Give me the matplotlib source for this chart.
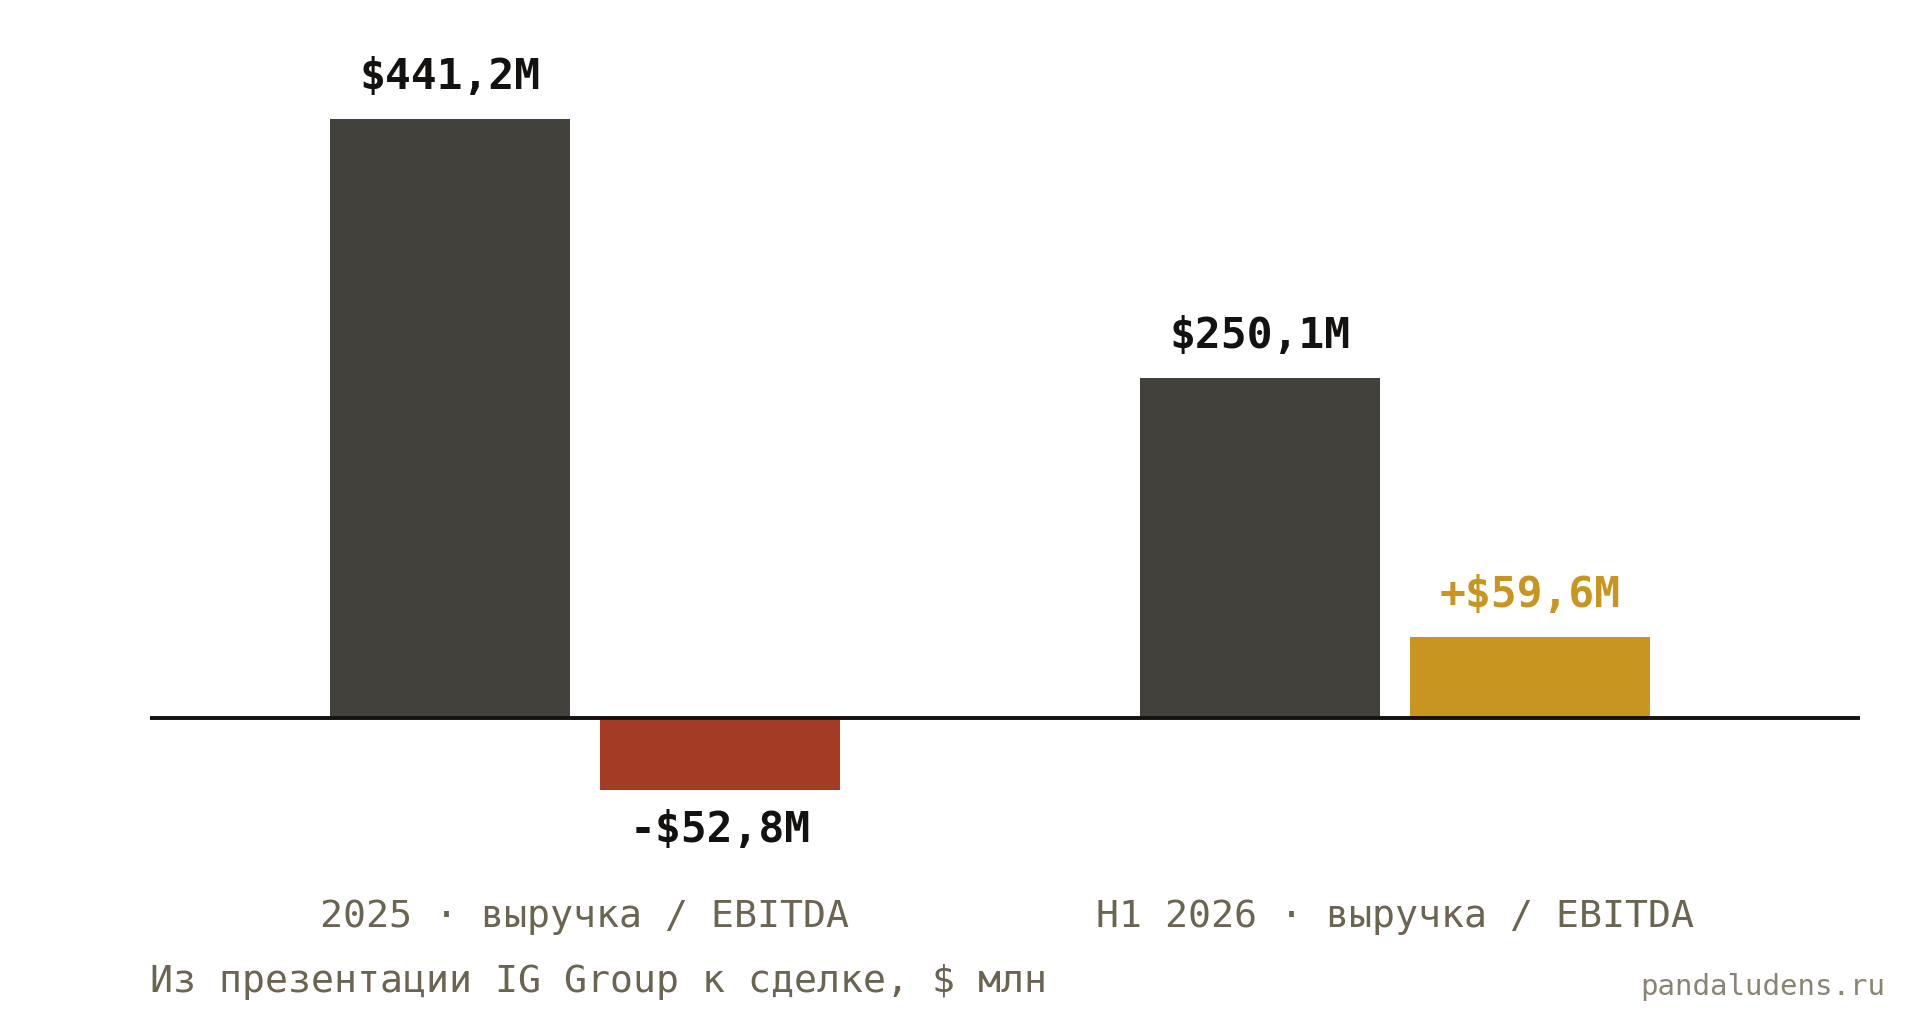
import matplotlib
matplotlib.use('Agg')
import matplotlib.pyplot as plt
import matplotlib.transforms as mtransforms

# данные
groups = ['2025 · выручка / EBITDA', 'H1 2026 · выручка / EBITDA']
revenue = [441.2, 250.1]
ebitda = [-52.8, 59.6]
revenue_labels = ['$441,2M', '$250,1M']
ebitda_labels = ['-$52,8M', '+$59,6M']
subtitle = 'Из презентации IG Group к сделке, $ млн'
watermark = 'pandaludens.ru'

dark = '#43413c'
red = '#a33b25'
gold = '#c89620'
ink = '#141210'
gray = '#6b6453'
light = '#8a8477'

plt.rcParams['font.family'] = ['DejaVu Sans Mono', 'DejaVu Sans']

fig = plt.figure(figsize=(19.2, 10.2), dpi=100)
ax = fig.add_axes([150 / 1920, 0, 1710 / 1920, 1])

x = list(range(len(groups)))
off = 135 / 810
w = 240 / 810

ax.bar([i - off for i in x], revenue, width=w, color=dark, zorder=2)
ebitda_colors = [red if v < 0 else gold for v in ebitda]
ax.bar([i + off for i in x], ebitda, width=w, color=ebitda_colors, zorder=2)
ax.axhline(0, color=ink, lw=2.8, zorder=3)

for i in x:
    ax.annotate(revenue_labels[i], (i - off, revenue[i]), xytext=(0, 31),
                textcoords='offset points', ha='center', va='center',
                fontsize=31, fontweight='bold', color=ink)
    v = ebitda[i]
    if v < 0:
        ax.annotate(ebitda_labels[i], (i + off, v), xytext=(0, -28),
                    textcoords='offset points', ha='center', va='center',
                    fontsize=31, fontweight='bold', color=ink)
    else:
        ax.annotate(ebitda_labels[i], (i + off, v), xytext=(0, 31),
                    textcoords='offset points', ha='center', va='center',
                    fontsize=31, fontweight='bold', color=gold)

trans = mtransforms.blended_transform_factory(ax.transData, ax.transAxes)
for i in x:
    ax.text(i, 1 - 917 / 1020, groups[i], transform=trans, ha='center',
            va='center', fontsize=27.5, color=gray)

ax.set_xlim(-435 / 810, 1275 / 810)
ax.set_ylim(-301 / 1.358, 719 / 1.358)
ax.axis('off')

fig.text(150 / 1920, 1 - 982 / 1020, subtitle, ha='left', va='center',
         fontsize=27.5, color=gray)
fig.text(1885 / 1920, 1 - 987 / 1020, watermark, ha='right', va='center',
         fontsize=21, color=light)

fig.savefig('out.png', dpi=100, facecolor='white')
